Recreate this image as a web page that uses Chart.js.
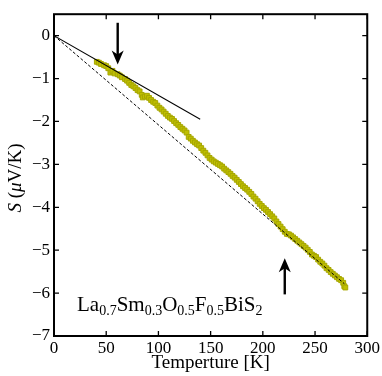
<!DOCTYPE html>
<html>
<head>
<meta charset="utf-8">
<script src="https://cdn.jsdelivr.net/npm/chart.js@4.4.1/dist/chart.umd.min.js"></script>
<style>
  html, body { margin: 0; padding: 0; background: #fff; }
  #wrap { width: 382px; height: 376px; }
</style>
</head>
<body>
<div id="wrap"><canvas id="myChart" width="382" height="376"></canvas></div>
<script>
// temperature (K) and thermopower S (uV/K)
const temps = [41, 43, 45, 48, 50, 52, 54, 56, 58, 61, 63, 65, 68, 70, 72, 74, 76, 78, 80, 82,
  84, 85, 87, 89, 91, 93, 95, 97, 99, 101, 103, 105, 107, 109, 111, 113, 115, 117, 119, 121,
  123, 125, 127, 129, 131, 133, 135, 137, 139, 141, 143, 145, 147, 149, 151, 153, 155, 157, 159, 161,
  163, 165, 167, 169, 171, 173, 175, 177, 179, 181, 183, 185, 187, 189, 191, 193, 195, 197, 199, 201,
  203, 205, 207, 209, 211, 213, 215, 217, 219, 221, 223, 225, 227, 229, 231, 233, 235, 237, 239, 241,
  243, 245, 247, 249, 251, 253, 255, 257, 259, 261, 263, 265, 267, 269, 271, 273, 275, 277, 278, 279];
const seebeck = [-0.61, -0.63, -0.66, -0.69, -0.71, -0.76, -0.86, -0.82, -0.88, -0.90, -0.93, -0.97, -1.01, -1.05, -1.10, -1.15, -1.18, -1.22, -1.27, -1.30,
  -1.38, -1.44, -1.42, -1.40, -1.45, -1.50, -1.54, -1.57, -1.63, -1.68, -1.72, -1.77, -1.82, -1.87, -1.91, -1.94, -1.99, -2.04, -2.08, -2.13,
  -2.17, -2.21, -2.26, -2.36, -2.40, -2.45, -2.49, -2.53, -2.56, -2.62, -2.68, -2.73, -2.79, -2.85, -2.89, -2.93, -2.96, -2.99, -3.02, -3.05,
  -3.10, -3.14, -3.18, -3.22, -3.27, -3.31, -3.36, -3.41, -3.46, -3.51, -3.55, -3.59, -3.64, -3.69, -3.75, -3.80, -3.86, -3.92, -3.97, -4.02,
  -4.06, -4.11, -4.16, -4.21, -4.26, -4.33, -4.39, -4.45, -4.51, -4.57, -4.62, -4.63, -4.66, -4.70, -4.74, -4.78, -4.82, -4.86, -4.90, -4.94,
  -4.99, -5.04, -5.10, -5.13, -5.16, -5.22, -5.27, -5.31, -5.36, -5.42, -5.46, -5.51, -5.55, -5.59, -5.63, -5.67, -5.70, -5.76, -5.84, -5.87];

// linear guides
const lowFitX = [0, 140];
const lowFitY = [0, -1.95];
const highFitX = [0, 278];
const highFitY = [0, -5.78];

// arrows: x, tail y, tip y
const arrowDown = [61, 0.30, -0.67];
const arrowUp = [221, -6.03, -5.19];

const xTicks = [0, 50, 100, 150, 200, 250, 300];
const yTicks = [0, -1, -2, -3, -4, -5, -6, -7];

const SERIF = '"Liberation Serif", "DejaVu Serif", serif';

function toPoints(xs, ys) {
    return xs.map((x, i) => ({ x: x, y: ys[i] }));
}

function minus(v) {
    return v < 0 ? '\u2212' + Math.abs(v) : String(v);
}

// frame, inward ticks, arrows, labels
const decorations = {
    id: 'decorations',
    afterDraw(chart) {
        const c = chart.ctx;
        const a = chart.chartArea;
        const xs = chart.scales.x, ys = chart.scales.y;
        c.save();
        c.strokeStyle = '#000';
        c.lineWidth = 1.3;
        xTicks.forEach(t => {
            const px = xs.getPixelForValue(t);
            c.beginPath();
            c.moveTo(px, a.bottom); c.lineTo(px, a.bottom - 5);
            c.moveTo(px, a.top); c.lineTo(px, a.top + 5);
            c.stroke();
        });
        yTicks.forEach(t => {
            const py = ys.getPixelForValue(t);
            c.beginPath();
            c.moveTo(a.left, py); c.lineTo(a.left + 5, py);
            c.moveTo(a.right, py); c.lineTo(a.right - 5, py);
            c.stroke();
        });
        c.lineWidth = 2;
        c.strokeRect(a.left, a.top, a.right - a.left, a.bottom - a.top);

        // arrows
        [arrowDown, arrowUp].forEach(ar => {
            const px = xs.getPixelForValue(ar[0]);
            const tail = ys.getPixelForValue(ar[1]);
            const tip = ys.getPixelForValue(ar[2]);
            const dir = tip > tail ? 1 : -1;
            c.lineWidth = 2.4;
            c.beginPath();
            c.moveTo(px, tail);
            c.lineTo(px, tip - dir * 8);
            c.stroke();
            c.fillStyle = '#000';
            c.beginPath();
            c.moveTo(px, tip);
            c.lineTo(px - 6, tip - dir * 14);
            c.lineTo(px, tip - dir * 10);
            c.lineTo(px + 6, tip - dir * 14);
            c.closePath();
            c.fill();
        });

        // compound label
        c.fillStyle = '#000';
        c.textBaseline = 'alphabetic';
        c.textAlign = 'left';
        const parts = [['La', 0], ['0.7', 1], ['Sm', 0], ['0.3', 1], ['O', 0], ['0.5', 1],
            ['F', 0], ['0.5', 1], ['BiS', 0], ['2', 1]];
        let tx = 77;
        const base = 311;
        parts.forEach(p => {
            c.font = p[1] ? '14px ' + SERIF : '21px ' + SERIF;
            c.fillText(p[0], tx, base + (p[1] ? 4 : 0));
            tx += c.measureText(p[0]).width;
        });

        // x title
        c.font = '19px ' + SERIF;
        c.textAlign = 'center';
        c.fillText('Temperture [K]', (a.left + a.right) / 2, 368);

        // y title, rotated
        c.translate(21, 178);
        c.rotate(-Math.PI / 2);
        const yParts = [['S', true], [' (', false], ['\u03bc', true], ['V/K)', false]];
        let total = 0;
        yParts.forEach(p => {
            c.font = (p[1] ? 'italic ' : '') + '19px ' + SERIF;
            total += c.measureText(p[0]).width;
        });
        let yx = -total / 2;
        c.textAlign = 'left';
        yParts.forEach(p => {
            c.font = (p[1] ? 'italic ' : '') + '19px ' + SERIF;
            c.fillText(p[0], yx, 0);
            yx += c.measureText(p[0]).width;
        });
        c.restore();
    }
};

const ctx = document.getElementById('myChart').getContext('2d');
const myChart = new Chart(ctx, {
    type: 'scatter',
    data: {
        datasets: [
            {
                label: 'high fit',
                data: toPoints(highFitX, highFitY),
                showLine: true,
                borderColor: '#000',
                borderWidth: 1,
                borderDash: [3, 2],
                pointRadius: 0,
                order: 1
            },
            {
                label: 'low fit',
                data: toPoints(lowFitX, lowFitY),
                showLine: true,
                borderColor: '#000',
                borderWidth: 1.1,
                pointRadius: 0,
                order: 1
            },
            {
                label: 'S',
                data: toPoints(temps, seebeck),
                pointStyle: 'rect',
                pointRadius: 3.4,
                backgroundColor: '#bfbf00',
                borderColor: '#a6a600',
                borderWidth: 1,
                order: 3
            }
        ]
    },
    options: {
        responsive: false,
        animation: false,
        layout: { padding: { top: 13, right: 14, left: 0, bottom: 0 } },
        plugins: { legend: { display: false }, tooltip: { enabled: false } },
        scales: {
            x: {
                type: 'linear',
                min: 0, max: 300,
                afterBuildTicks: s => { s.ticks = xTicks.map(v => ({ value: v })); },
                afterFit: s => { s.height = 40; },
                grid: { display: false, drawTicks: false, tickLength: 0 },
                border: { display: false },
                ticks: {
                    padding: 2,
                    color: '#000',
                    font: { family: SERIF, size: 17 }
                }
            },
            y: {
                type: 'linear',
                min: -7, max: 0.5,
                afterBuildTicks: s => { s.ticks = yTicks.map(v => ({ value: v })); },
                afterFit: s => { s.width = 54; },
                grid: { display: false, drawTicks: false, tickLength: 0 },
                border: { display: false },
                ticks: {
                    padding: 4,
                    color: '#000',
                    font: { family: SERIF, size: 17 },
                    callback: v => minus(v)
                }
            }
        }
    },
    plugins: [decorations]
});
</script>
</body>
</html>
